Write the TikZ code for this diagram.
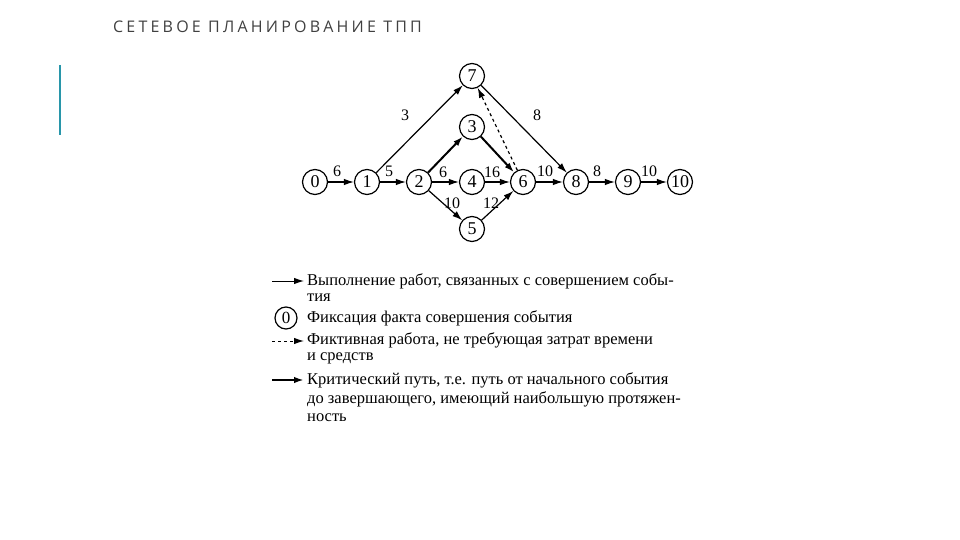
\documentclass[tikz,border=0pt]{standalone}
\usepackage{fontspec}
\setmainfont{Liberation Serif}
\newfontfamily\titlefont{Open Sans}
\usetikzlibrary{arrows.meta}
\begin{document}
\begin{tikzpicture}[x=1pt,y=-1pt,
  ev/.style={circle,draw,line width=1.2pt,minimum size=25pt,inner sep=0pt,font=\fontsize{18}{18}\selectfont},
  wk/.style={draw,line width=1.2pt,-{Latex[length=10pt,width=6.5pt]}},
  crit/.style={wk,line width=2pt},
  lbl/.style={font=\fontsize{16}{16}\selectfont,inner sep=0pt},
  leg/.style={anchor=west,inner sep=0pt,font=\fontsize{16.5}{16.5}\selectfont}]
\useasboundingbox (0,0) rectangle (960,540);
\node[anchor=west,inner sep=0pt,text=black!75,font=\titlefont\fontsize{16}{16}\selectfont] (title) at (113,27) {\addfontfeatures{LetterSpace=20}СЕТЕВОЕ ПЛАНИРОВАНИЕ ТПП};
\draw[line width=2pt,color={rgb,255:red,40;green,150;blue,170}] (60,65) coordinate (b1) -- (60,135) coordinate (b2);
\node[ev] (n0) at (315,182) {0};
\node[ev] (n1) at (367,182) {1};
\node[ev] (n2) at (419,182) {2};
\node[ev] (n4) at (472,182) {4};
\node[ev] (n6) at (523,182) {6};
\node[ev] (n8) at (576,182) {8};
\node[ev] (n9) at (628,182) {9};
\node[ev] (n10) at (680,182) {10};
\node[ev] (n7) at (472,76) {7};
\node[ev] (n3) at (472,127) {3};
\node[ev] (n5) at (472,229) {5};
\draw[wk] (n0) -- (n1);
\draw[wk] (n1) -- (n2);
\draw[wk] (n2) -- (n4);
\draw[wk] (n4) -- (n6);
\draw[wk] (n6) -- (n8);
\draw[wk] (n8) -- (n9);
\draw[wk] (n9) -- (n10);
\draw[wk] (n1) -- (n7);
\draw[wk] (n7) -- (n8);
\draw[crit] (n2) -- (n3);
\draw[crit] (n3) -- (n6);
\draw[wk] (n2) -- (n5);
\draw[wk] (n5) -- (n6);
\draw[wk,dashed] (n6) -- (n7);
\node[lbl] (l1) at (405,115) {3};
\node[lbl] (l2) at (537,115) {8};
\node[lbl] (l3) at (337,171) {6};
\node[lbl] (l4) at (389,171) {5};
\node[lbl] (l5) at (443,172) {6};
\node[lbl] (l6) at (492,172) {16};
\node[lbl] (l7) at (545,171) {10};
\node[lbl] (l8) at (597,171) {8};
\node[lbl] (l9) at (649,171) {10};
\node[lbl] (l10) at (452,203) {10};
\node[lbl] (l11) at (491,203) {12};
% legend
\coordinate (a1s) at (272,281); \coordinate (a1e) at (304,281);
\draw[wk,line width=1pt] (a1s) -- (a1e);
\node[leg] (t1) at (307,281) {Выполнение работ, связанных с совершением собы-};
\node[leg] (t2) at (307,298) {тия};
\node[circle,draw,line width=1.2pt,minimum size=22pt,inner sep=0pt,font=\fontsize{17}{17}\selectfont] (c0) at (286,318) {0};
\node[leg] (t3) at (307,318) {Фиксация факта совершения события};
\coordinate (a2s) at (272,341); \coordinate (a2e) at (304,341);
\draw[wk,dashed,line width=1pt] (a2s) -- (a2e);
\node[leg] (t4) at (307,340) {Фиктивная работа, не требующая затрат времени};
\node[leg] (t5) at (307,358) {и средств};
\coordinate (a3s) at (272,380); \coordinate (a3e) at (304,380);
\draw[crit] (a3s) -- (a3e);
\node[leg] (t6) at (307,380) {Критический путь, т.е. путь от начального события};
\node[leg] (t7) at (307,399) {до завершающего, имеющий наибольшую протяжен-};
\node[leg] (t8) at (307,418) {ность};
\end{tikzpicture}
\end{document}
